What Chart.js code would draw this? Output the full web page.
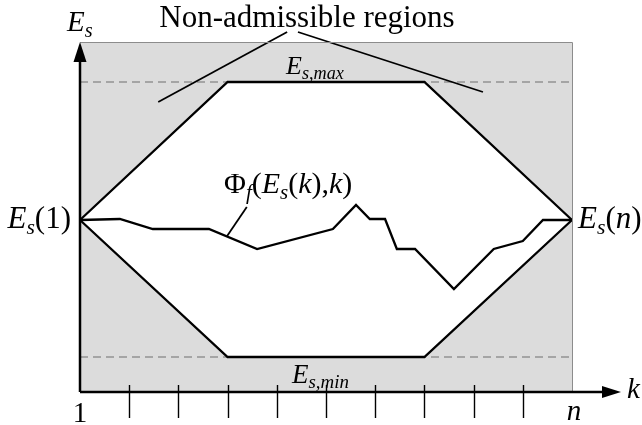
<!DOCTYPE html>
<html>
<head>
<meta charset="utf-8">
<script src="https://cdn.jsdelivr.net/npm/chart.js@4.4.1/dist/chart.umd.min.js"></script>
<style>
html,body{margin:0;padding:0;background:#fff}
canvas{display:block}
</style>
</head>
<body>
<canvas id="plot" width="642" height="425"></canvas>
<script>
// stage k runs from 1 to n (n = 11)
const kMin = 1, kMax = 11;
const kTicks = [2, 3, 4, 5, 6, 7, 8, 9, 10];
const kEndLabels = ['1', 'n'];

// admissible region boundary (hexagon)
const boundK = [1, 4, 8, 11];
const upperBound = [1.72, 3.10, 3.10, 1.72];
const lowerBound = [1.72, 0.35, 0.35, 1.72];
const eMax = 3.10, eMin = 0.35, eTop = 3.5;

// trajectory Phi_f(E_s(k),k)
const pathK = [1, 1.81, 2.48, 3.62, 4.6, 6.14, 6.61, 6.89, 7.2, 7.44, 7.81, 8.6, 9.41, 10.0, 10.41, 11];
const pathE = [1.72, 1.73, 1.63, 1.63, 1.43, 1.63, 1.87, 1.73, 1.73, 1.43, 1.43, 1.03, 1.43, 1.51, 1.72, 1.72];

// callout lines
const leaderLeft = [[2.59, 2.90], [5.21, 3.60]];
const leaderRight = [[5.43, 3.60], [9.19, 3.00]];
const leaderPhi = [[3.99, 1.56], [4.39, 1.85]];

const pts = (xs, ys) => xs.map((x, i) => ({x: x, y: ys[i]}));
const pairs = arr => arr.map(p => ({x: p[0], y: p[1]}));

const GRAY = '#dcdcdc';
const FONT = '"Liberation Serif", "Times New Roman", serif';

function line(data, extra) {
    return Object.assign({
        data: data,
        borderColor: '#000',
        borderWidth: 2.3,
        pointRadius: 0,
        tension: 0,
        fill: false,
        clip: false
    }, extra || {});
}

const up = t => ({t: t});
const it = t => ({t: t, it: true});
const sub = t => ({t: t, it: true, sub: true});

function drawRich(ctx, segs, x, y, size, align) {
    const parts = segs.map(s => {
        const fs = s.sub ? size * 0.7 : size;
        const font = (s.it ? 'italic ' : '') + fs + 'px ' + FONT;
        ctx.font = font;
        return {t: s.t, font: font, w: ctx.measureText(s.t).width, dy: s.sub ? size * 0.2 : 0};
    });
    const total = parts.reduce((a, p) => a + p.w, 0);
    let cx = align === 'center' ? x - total / 2 : align === 'right' ? x - total : x;
    parts.forEach(p => {
        ctx.font = p.font;
        ctx.fillText(p.t, cx, y + p.dy);
        cx += p.w;
    });
}

const diagram = {
    id: 'diagram',
    afterDatasetsDraw(chart) {
        const ctx = chart.ctx, a = chart.chartArea;
        const xs = chart.scales.x, ys = chart.scales.y;
        ctx.save();
        // frame of the non-admissible box
        ctx.strokeStyle = '#8c8c8c';
        ctx.lineWidth = 1;
        ctx.beginPath();
        ctx.moveTo(a.left, a.top + 0.5);
        ctx.lineTo(a.right + 0.5, a.top + 0.5);
        ctx.lineTo(a.right + 0.5, a.bottom);
        ctx.stroke();

        // axes with arrows
        const x0 = xs.getPixelForValue(kMin), y0 = ys.getPixelForValue(0);
        ctx.strokeStyle = '#000';
        ctx.fillStyle = '#000';
        ctx.lineWidth = 2.5;
        ctx.beginPath();
        ctx.moveTo(x0, y0);
        ctx.lineTo(x0, a.top + 18);
        ctx.moveTo(x0, y0);
        ctx.lineTo(a.right + 32, y0);
        ctx.stroke();
        ctx.beginPath();
        ctx.moveTo(x0, a.top);
        ctx.lineTo(x0 - 6.5, a.top + 20);
        ctx.lineTo(x0 + 6.5, a.top + 20);
        ctx.closePath();
        ctx.fill();
        ctx.beginPath();
        ctx.moveTo(a.right + 49, y0);
        ctx.lineTo(a.right + 30, y0 - 6);
        ctx.lineTo(a.right + 30, y0 + 6);
        ctx.closePath();
        ctx.fill();

        // tick marks on k axis
        ctx.lineWidth = 1.4;
        ctx.beginPath();
        kTicks.forEach(k => {
            const px = Math.round(xs.getPixelForValue(k)) + 0.5;
            ctx.moveTo(px, y0 - 7);
            ctx.lineTo(px, y0 + 26);
        });
        ctx.stroke();
        ctx.restore();
    },
    afterDraw(chart) {
        const ctx = chart.ctx;
        const xs = chart.scales.x, ys = chart.scales.y;
        const X = v => xs.getPixelForValue(v), Y = v => ys.getPixelForValue(v);
        ctx.save();
        ctx.fillStyle = '#000';
        ctx.textBaseline = 'alphabetic';

        drawRich(ctx, [up('Non-admissible regions')], 307, 27, 31, 'center');
        drawRich(ctx, [it('E'), sub('s')], X(kMin) - 13, 31, 29, 'left');
        drawRich(ctx, [it('E'), sub('s,max')], 286, Y(eMax) - 8, 26, 'left');
        drawRich(ctx, [it('E'), sub('s,min')], 292, Y(eMin) + 26, 27, 'left');
        drawRich(ctx, [up('\u03A6'), sub('f'), up('('), it('E'), sub('s'), up('('), it('k'), up('),'), it('k'), up(')')], 224, 193, 30, 'left');
        drawRich(ctx, [it('E'), sub('s'), up('(1)')], X(kMin) - 9, Y(upperBound[0]) + 8, 31, 'right');
        drawRich(ctx, [it('E'), sub('s'), up('('), it('n'), up(')')], X(kMax) + 6, Y(upperBound[3]) + 8, 31, 'left');
        drawRich(ctx, [up(kEndLabels[0])], X(kMin), 422, 29, 'center');
        drawRich(ctx, [it(kEndLabels[1])], X(kMax) + 2, 420, 29, 'center');
        drawRich(ctx, [it('k')], 627, 398, 29, 'left');
        ctx.restore();
    }
};

const data = {
    datasets: [
        line(pts(pathK, pathE), {order: 1}),
        line(pairs(leaderPhi), {order: 1, borderWidth: 1.8}),
        line(pairs(leaderLeft), {order: 1, borderWidth: 1.8}),
        line(pairs(leaderRight), {order: 1, borderWidth: 1.8}),
        line(pts(boundK, upperBound), {order: 2, fill: 'end', backgroundColor: GRAY}),
        line(pts(boundK, lowerBound), {order: 2, fill: 'start', backgroundColor: GRAY}),
        line(pts([kMin, kMax], [eMax, eMax]), {order: 3, borderColor: '#6e6e6e', borderWidth: 1, borderDash: [8, 5]}),
        line(pts([kMin, kMax], [eMin, eMin]), {order: 3, borderColor: '#6e6e6e', borderWidth: 1, borderDash: [8, 5]})
    ]
};

const config = {
    type: 'line',
    data: data,
    options: {
        responsive: false,
        animation: false,
        devicePixelRatio: 1,
        layout: {padding: {left: 80, right: 70, top: 42, bottom: 33}},
        scales: {
            x: {type: 'linear', min: kMin, max: kMax, display: false},
            y: {type: 'linear', min: 0, max: eTop, display: false}
        },
        plugins: {
            legend: {display: false},
            tooltip: {enabled: false},
            filler: {drawTime: 'beforeDatasetsDraw'}
        }
    },
    plugins: [diagram]
};

let ctx = document.getElementById('plot').getContext('2d');
let chart = new Chart(ctx, config);
</script>
</body>
</html>
